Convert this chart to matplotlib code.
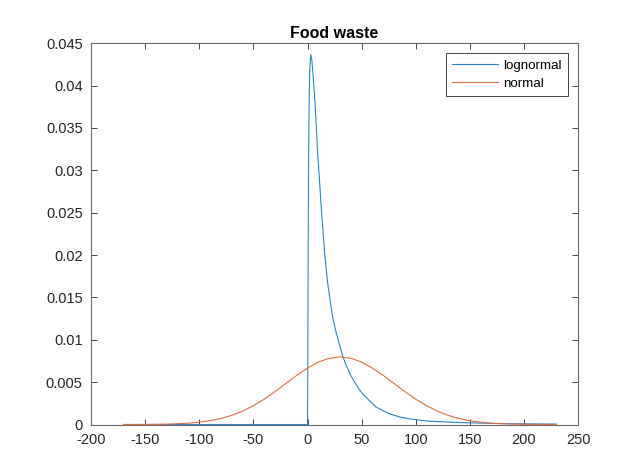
import matplotlib
matplotlib.use("Agg")
import matplotlib.pyplot as plt
from matplotlib.ticker import FuncFormatter, MultipleLocator

# values
x_logn = [-170, 0, 0.2, 0.4, 0.6, 0.8, 1, 1.5, 2, 3, 4, 5, 6.8, 9.2, 13.3, 16,
          18.5, 23, 26, 30, 33, 36, 40, 44, 48, 51, 55, 59, 63, 69, 75, 85,
          95, 110, 130, 150, 175, 200, 230]
y_logn = [0, 0, 0.005, 0.013, 0.020, 0.026, 0.031, 0.038, 0.0418, 0.0437,
          0.0430, 0.0415, 0.0383, 0.0324, 0.0245, 0.0200, 0.0168, 0.0128,
          0.0111, 0.0092, 0.0079, 0.0069, 0.0058, 0.0049, 0.0041, 0.0036,
          0.0031, 0.0026, 0.0021, 0.0017, 0.0013, 0.0009, 0.00065, 0.00042,
          0.00028, 0.0002, 0.00012, 0.00008, 0.00005]

x_norm = list(range(-170, 231, 10))
y_norm = [0.000003, 0.000006, 0.000012, 0.000025, 0.000048, 0.000089, 0.000158,
          0.000272, 0.000448, 0.00071, 0.00108, 0.00158, 0.00222, 0.00299,
          0.00388, 0.00484, 0.0058, 0.00666, 0.00737, 0.00782, 0.00798,
          0.00782, 0.00737, 0.00666, 0.0058, 0.00484, 0.00388, 0.00299,
          0.00222, 0.00158, 0.00108, 0.00071, 0.000448, 0.000272, 0.000158,
          0.000089, 0.000048, 0.000025, 0.000012, 0.000006, 0.000003]

plt.rcParams['font.family'] = ['Liberation Sans', 'DejaVu Sans']
plt.rcParams['axes.unicode_minus'] = False

fig = plt.figure(figsize=(6.28, 4.73), dpi=100)
ax = fig.add_axes([0.145, 0.1025, 0.7755, 0.806])

ax.plot(x_logn, y_logn, color="#2a86c0", lw=0.8, label="lognormal")
ax.plot(x_norm, y_norm, color="#dc6f48", lw=0.8, label="normal")

ax.set_xlim(-200, 250)
ax.set_ylim(0, 0.045)
ax.xaxis.set_major_locator(MultipleLocator(50))
ax.yaxis.set_major_locator(MultipleLocator(0.005))
ax.yaxis.set_major_formatter(FuncFormatter(lambda v, p: f"{round(v, 4):g}"))

axis_col = "#6a6a6a"
for s in ax.spines.values():
    s.set_color(axis_col)
    s.set_linewidth(0.8)
ax.tick_params(direction="in", length=4, width=0.6, color="#262626",
               top=True, right=True, labelsize=10.5, labelcolor="#262626", pad=6)

ax.set_title("Food waste", fontsize=11.5, fontweight="bold", pad=4)

leg = ax.legend(loc="upper right", fontsize=9.6, fancybox=False, framealpha=1,
                edgecolor="#262626", handlelength=3.5, borderaxespad=0.75,
                handletextpad=0.4, borderpad=0.45, labelspacing=0.45)
leg.get_frame().set_linewidth(0.6)

fig.savefig("out.png", dpi=100)
